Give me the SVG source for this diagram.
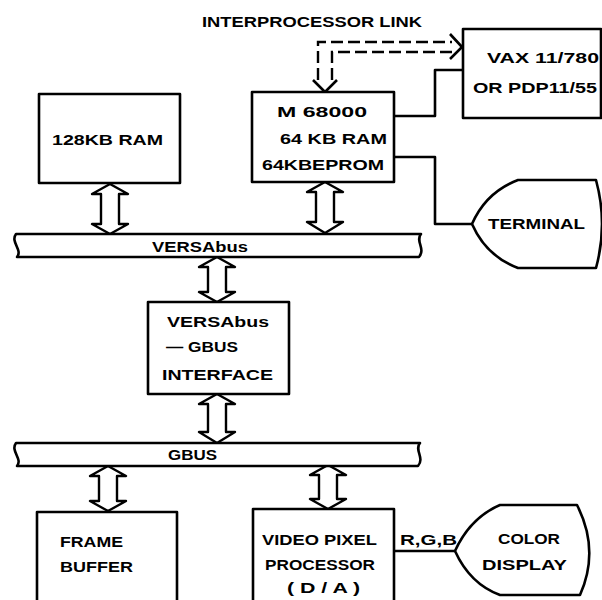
<svg xmlns="http://www.w3.org/2000/svg" width="602" height="600" viewBox="0 0 602 600">
<style>
.box{fill:#fff;stroke:#000;stroke-width:2.6;stroke-linejoin:round}
.ln{fill:none;stroke:#000;stroke-width:2.6;stroke-linejoin:round}
.dash{fill:none;stroke:#000;stroke-width:2.4;stroke-dasharray:12 5}
.arr{fill:#fff;stroke:#000;stroke-width:2.4;stroke-linejoin:round}
text{font-family:"Liberation Sans",Arial,sans-serif;font-weight:bold;font-size:15.5px;fill:#000}
</style>
<rect width="602" height="600" fill="#fff"/>
<defs>
<path id="dbl" d="M0,0 L18,10 L9,10 L9,-10 L18,-10 Z"/>
</defs>

<g id="title"><text x="202" y="27" textLength="220" lengthAdjust="spacingAndGlyphs" font-size="14.5">INTERPROCESSOR LINK</text></g>

<g id="connectors">
<!-- interprocessor dashed link -->
<path class="dash" d="M318,80 L318,42 L452,42"/>
<path class="dash" d="M332,80 L332,52 L452,52"/>
<path class="ln" stroke-width="2.2" d="M313,80 L325,92 L337,80"/>
<path class="ln" stroke-width="2.2" d="M450,34 L462,47 L450,59"/>
<!-- M68000 to VAX -->
<path class="ln" d="M394,116 L435,116 L435,70 L463,70"/>
<!-- M68000 to terminal -->
<path class="ln" d="M394,157 L435,157 L435,224 L472,224"/>
<!-- RGB -->
<path class="ln" d="M394,551 L455,551"/>
<text x="400" y="545" textLength="57" lengthAdjust="spacingAndGlyphs">R,G,B</text>
<!-- bus arrows -->
<path class="arr" d="M110,184 L128,194 L119,194 L119,224 L128,224 L110,234 L92,224 L101,224 L101,194 L92,194 Z"/>
<path class="arr" d="M325,182 L343,192 L334,192 L334,222 L343,222 L325,233 L307,222 L316,222 L316,192 L307,192 Z"/>
<path class="arr" d="M217,257 L235,267 L226,267 L226,292 L235,292 L217,302 L199,292 L208,292 L208,267 L199,267 Z"/>
<path class="arr" d="M217,394 L235,404 L226,404 L226,432 L235,432 L217,443 L199,432 L208,432 L208,404 L199,404 Z"/>
<path class="arr" d="M108,466 L126,476 L117,476 L117,501 L126,501 L108,511 L90,501 L99,501 L99,476 L90,476 Z"/>
<path class="arr" d="M328,465 L346,475 L337,475 L337,499 L346,499 L328,509 L310,499 L319,499 L319,475 L310,475 Z"/>
</g>

<g id="ram128">
<rect class="box" x="39" y="94" width="141" height="89"/>
<text x="52" y="145" textLength="111" lengthAdjust="spacingAndGlyphs">128KB RAM</text>
</g>

<g id="m68000">
<rect class="box" x="252" y="92" width="142" height="90"/>
<text x="277" y="117" textLength="90" lengthAdjust="spacingAndGlyphs">M 68000</text>
<text x="280" y="144" textLength="107" lengthAdjust="spacingAndGlyphs">64 KB RAM</text>
<text x="262" y="170" textLength="122" lengthAdjust="spacingAndGlyphs">64KBEPROM</text>
</g>

<g id="vax">
<rect class="box" x="463" y="29" width="138" height="89"/>
<text x="487" y="63" textLength="112" lengthAdjust="spacingAndGlyphs">VAX 11/780</text>
<text x="473" y="93" textLength="124" lengthAdjust="spacingAndGlyphs">OR PDP11/55</text>
</g>

<g id="terminal">
<path class="box" d="M472,224 Q486,192 518,180 L596,180 Q608,224 596,268 L518,268 Q486,256 472,224 Z"/>
<text x="488" y="229" textLength="97" lengthAdjust="spacingAndGlyphs">TERMINAL</text>
</g>

<g id="versabus">
<path class="box" d="M16,234 L421,234 C415,241 426,249 419,257 L17,257 C23,250 10,242 16,234 Z"/>
<text x="152" y="252" textLength="96" lengthAdjust="spacingAndGlyphs">VERSAbus</text>
</g>

<g id="interface">
<rect class="box" x="148" y="302" width="141" height="92"/>
<text x="167" y="327" textLength="102" lengthAdjust="spacingAndGlyphs">VERSAbus</text>
<text x="166" y="352" textLength="72" lengthAdjust="spacingAndGlyphs">— GBUS</text>
<text x="162" y="380" textLength="111" lengthAdjust="spacingAndGlyphs">INTERFACE</text>
</g>

<g id="gbus">
<path class="box" d="M16,443 L420,443 C414,450 425,458 418,466 L17,466 C23,459 10,451 16,443 Z"/>
<text x="168" y="460" textLength="49" lengthAdjust="spacingAndGlyphs" font-weight="normal">GBUS</text>
</g>

<g id="framebuffer">
<rect class="box" x="37" y="512" width="140" height="92"/>
<text x="60" y="547" textLength="63" lengthAdjust="spacingAndGlyphs">FRAME</text>
<text x="60" y="572" textLength="73" lengthAdjust="spacingAndGlyphs">BUFFER</text>
</g>

<g id="videopixel">
<rect class="box" x="253" y="509" width="141" height="95"/>
<text x="262" y="545" textLength="115" lengthAdjust="spacingAndGlyphs">VIDEO PIXEL</text>
<text x="265" y="570" textLength="110" lengthAdjust="spacingAndGlyphs">PROCESSOR</text>
<text x="287" y="593" textLength="73" lengthAdjust="spacingAndGlyphs">( D / A )</text>
</g>

<g id="colordisplay">
<path class="box" d="M455,551 Q470,518 500,505 L577,505 Q600,550 580,595 L500,595 Q470,584 455,551 Z"/>
<text x="498" y="544" textLength="62" lengthAdjust="spacingAndGlyphs">COLOR</text>
<text x="482" y="570" textLength="85" lengthAdjust="spacingAndGlyphs">DISPLAY</text>
</g>
</svg>
